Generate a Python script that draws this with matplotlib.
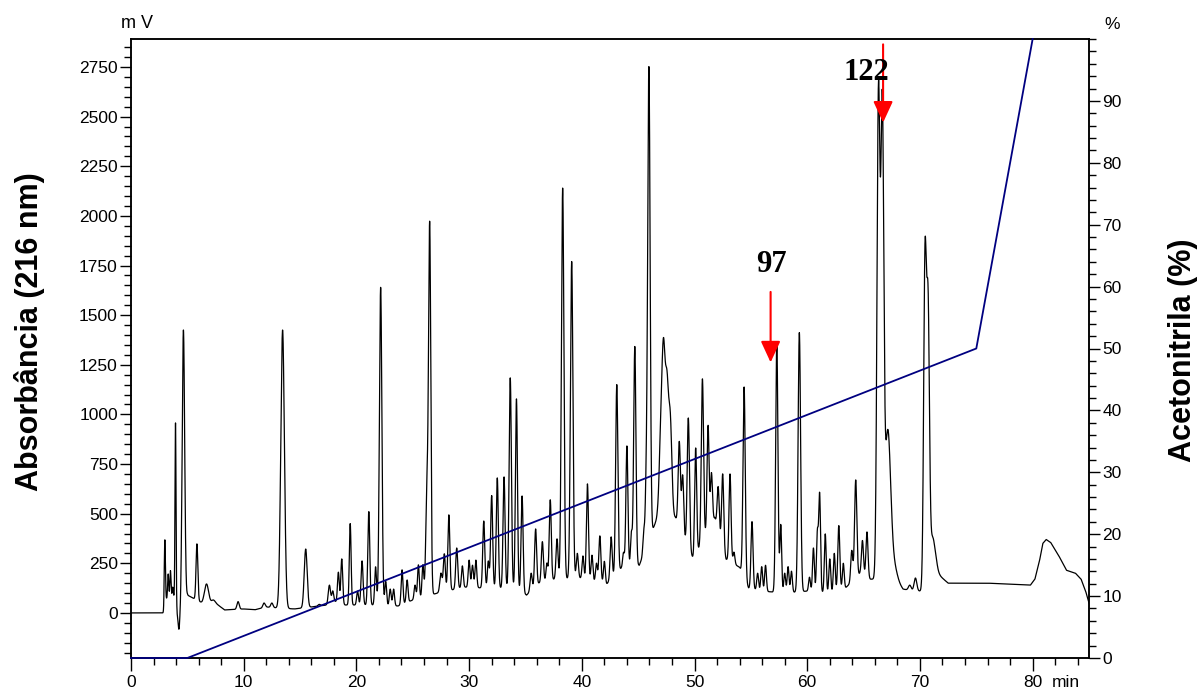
import numpy as np
import matplotlib
matplotlib.use('Agg')
import matplotlib.pyplot as plt
from matplotlib.ticker import MultipleLocator, FixedLocator

plt.rcParams['font.family'] = ['Liberation Sans', 'DejaVu Sans']

# baseline of the trace (min, mV), read between the peaks
base_rt = [0, 2.9, 3.1, 3.9, 4.1, 4.4, 5.0, 6.0, 6.3, 7.5, 8.3, 10, 11, 12, 13, 14.5, 16, 17.4, 18,
           19, 21.5, 23.7, 25, 27.2, 29.6, 31.5, 34, 35.1, 36.2, 37.6, 40, 42.2, 43.5, 45.1, 46.7,
           48.3, 49.9, 51.8, 52.8, 54, 54.8, 56, 58, 60, 62, 63.4, 64.7, 65.6, 66, 67.5, 68.5,
           69.5, 70.2, 71.5, 72.5, 76, 79.8, 80.2, 80.6, 80.9, 81.2, 81.6, 82.3, 83, 83.8, 84.3,
           84.7, 85]
base_mv = [0, 0, 70, 80, 0, 0, 90, 60, 50, 50, 15, 20, 16, 30, 25, 20, 30, 40, 60,
           40, 40, 35, 65, 100, 130, 125, 125, 90, 150, 170, 175, 145, 225, 240, 480,
           480, 270, 480, 270, 230, 125, 110, 100, 110, 100, 126, 200, 170, 170, 200, 120,
           110, 110, 200, 150, 150, 140, 170, 260, 350, 370, 355, 290, 215, 200, 170,
           110, 50]

# peaks: retention time (min), apex (mV), width (min)
peak_rt = [3.0, 3.3, 3.5, 3.7, 3.95, 4.25, 4.65, 5.85, 6.7, 7.3, 9.5, 11.8, 12.5, 13.45, 15.5,
           16.7, 17.6, 17.9, 18.4, 18.7, 19.45, 20.1, 20.5, 21.1, 21.7, 22.15, 22.6, 23.0, 23.3,
           24.05, 24.5, 25.2, 25.5, 25.9, 26.25, 26.5, 27.5, 27.8, 28.2, 28.9, 29.4, 30.0, 30.3,
           30.6, 31.3, 31.7, 32.0, 32.5, 33.1, 33.65, 34.2, 34.7, 35.5, 35.9, 36.5, 36.9, 37.2,
           37.8, 38.3, 39.1, 39.6, 40.1, 40.5, 40.9, 41.3, 41.6, 42.0, 42.6, 43.1, 43.7, 44.0,
           44.4, 44.7, 45.5, 45.7, 45.95, 47.0, 47.25, 47.55, 47.85, 48.65, 48.95, 49.45, 50.1,
           50.7, 51.2, 51.5, 52.1, 52.5, 53.15, 53.5, 54.4, 55.1, 55.6, 55.96, 56.3, 57.3, 57.65,
           58.0, 58.3, 58.6, 59.3, 60.2, 60.55, 60.9, 61.1, 61.6, 62.0, 62.4, 62.8, 63.2, 63.95,
           64.3, 64.9, 65.3, 66.32, 66.66, 67.15, 67.75, 69.1, 69.6, 70.45, 70.72, 71.1]
peak_top = [368, 196, 213, 130, 957, -84, 1425, 348, 146, 65, 57, 50, 50, 1425, 322,
            43, 140, 110, 205, 272, 450, 110, 262, 510, 232, 1640, 158, 120, 120,
            217, 166, 140, 242, 242, 600, 1950, 200, 297, 494, 327, 237, 266, 240,
            266, 463, 260, 591, 680, 685, 1184, 1078, 589, 200, 423, 359, 250, 570,
            373, 2140, 1770, 300, 287, 650, 291, 250, 388, 260, 383, 1150, 303, 841,
            400, 1342, 410, 585, 2750, 850, 1250, 1100, 950, 863, 690, 982, 831,
            1179, 944, 705, 636, 700, 700, 306, 1138, 460, 200, 233, 240, 1360, 443,
            200, 233, 210, 1412, 180, 327, 402, 594, 398, 272, 300, 440, 250, 314,
            670, 365, 408, 2600, 2450, 920, 230, 140, 176, 1760, 1450, 380]
peak_sd = [0.05, 0.05, 0.05, 0.05, 0.045, 0.07, 0.11, 0.08, 0.18, 0.14, 0.1, 0.1, 0.1, 0.16, 0.13,
           0.1, 0.1, 0.08, 0.08, 0.08, 0.08, 0.08, 0.09, 0.09, 0.08, 0.11, 0.08, 0.08, 0.08,
           0.08, 0.08, 0.08, 0.08, 0.08, 0.1, 0.1, 0.1, 0.09, 0.09, 0.09, 0.08, 0.08, 0.08,
           0.08, 0.09, 0.08, 0.09, 0.09, 0.09, 0.1, 0.09, 0.09, 0.09, 0.09, 0.09, 0.08, 0.09,
           0.09, 0.11, 0.11, 0.09, 0.08, 0.09, 0.08, 0.08, 0.09, 0.08, 0.09, 0.1, 0.08, 0.09,
           0.08, 0.1, 0.08, 0.08, 0.11, 0.14, 0.14, 0.14, 0.14, 0.1, 0.09, 0.1, 0.09,
           0.1, 0.09, 0.09, 0.09, 0.09, 0.09, 0.08, 0.1, 0.09, 0.08, 0.08, 0.08, 0.1, 0.08,
           0.08, 0.08, 0.08, 0.11, 0.08, 0.08, 0.08, 0.08, 0.08, 0.08, 0.08, 0.09, 0.08, 0.09,
           0.1, 0.09, 0.09, 0.13, 0.13, 0.25, 0.25, 0.12, 0.12, 0.12, 0.12, 0.25]

# acetonitrile gradient (min, %)
grad_rt = [0, 5, 75, 80]
grad_pct = [0, 0, 50, 100]

# build the trace
t = np.linspace(0, 85, 17001)
signal = np.interp(t, base_rt, base_mv)
for rt, top, sd in zip(peak_rt, peak_top, peak_sd):
    h = top - np.interp(rt, base_rt, base_mv)
    signal += h * np.exp(-0.5 * ((t - rt) / sd) ** 2)

fig = plt.figure(figsize=(11.97, 6.92), dpi=100)
ax = fig.add_axes([131 / 1197, 1 - 658 / 692, (1089 - 131) / 1197, (658 - 39) / 692])
ax2 = ax.twinx()
ax2.set_ylim(0, 100)
ax2.yaxis.set_major_locator(FixedLocator(list(range(0, 100, 10))))
ax2.yaxis.set_minor_locator(MultipleLocator(2))

ax.set_zorder(ax2.get_zorder() + 1)
ax.patch.set_visible(False)
ax.plot(t, signal, color='black', lw=0.9)
ax.set_xlim(0, 85)
ax.set_ylim(-227, 2891)
ax.plot(grad_rt, grad_pct, color='#000080', lw=1.3, clip_on=False, zorder=3,
        transform=ax2.transData)
ax.xaxis.set_major_locator(MultipleLocator(10))
ax.xaxis.set_minor_locator(MultipleLocator(2))
ax.yaxis.set_major_locator(MultipleLocator(250))
ax.yaxis.set_minor_locator(MultipleLocator(50))

for a in (ax, ax2):
    a.tick_params(which='major', length=8, width=1, labelsize=12.5, pad=1.5)
    a.tick_params(which='minor', length=5, width=1)
    for s in a.spines.values():
        s.set_linewidth(1.1)
ax.tick_params(axis='x', which='major', length=9, pad=3)

ax.annotate('min', xy=(80, 0), xycoords=('data', 'axes fraction'), xytext=(14, -12.5),
            textcoords='offset points', ha='left', va='top', fontsize=12.5)
ax.text(0.006, 1.012, 'm V', transform=ax.transAxes, ha='center', va='bottom', fontsize=13)
ax2.text(1.024, 1.012, '%', transform=ax2.transAxes, ha='center', va='bottom', fontsize=12.5)

fig.text(30 / 1197, 1 - 332 / 692, 'Absorbância (216 nm)', rotation=90, ha='center', va='center',
         fontsize=22, fontweight='bold')
fig.text(1183 / 1197, 1 - 350 / 692, 'Acetonitrila (%)', rotation=90, ha='center', va='center',
         fontsize=22, fontweight='bold')

# marked fractions
arrow = dict(arrowstyle='-|>,head_length=0.65,head_width=0.3', color='red', lw=1.5,
             mutation_scale=20, shrinkA=0, shrinkB=0)
ax.annotate('', xy=(56.75, 1262), xytext=(56.75, 1617), arrowprops=arrow)
ax.annotate('', xy=(66.73, 2470), xytext=(66.73, 2864), arrowprops=arrow, annotation_clip=False)
ax.text(56.8, 1753, '97', ha='center', va='center', fontsize=22, fontweight='bold',
        family=['Liberation Serif', 'DejaVu Serif'])
ax.text(65.2, 2720, '122', ha='center', va='center', fontsize=22, fontweight='bold',
        family=['Liberation Serif', 'DejaVu Serif'])

fig.savefig('out.png', dpi=100)
